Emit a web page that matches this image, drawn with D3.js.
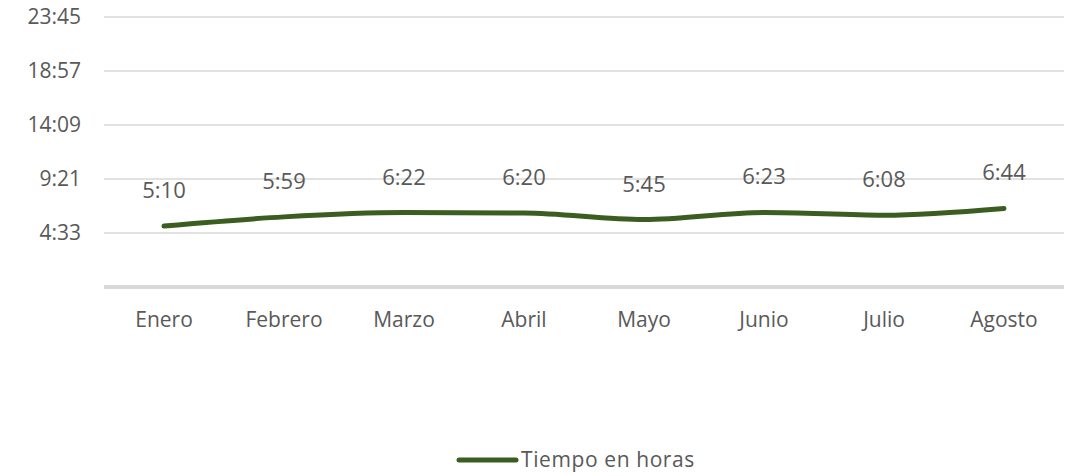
<!DOCTYPE html>
<html>
<head>
<meta charset="utf-8">
<script src="https://cdn.jsdelivr.net/npm/d3@7"></script>
<style>
  body { margin: 0; background: #fff; }
  text { font-family: "Open Sans", sans-serif; fill: #595959; }
</style>
</head>
<body>
<svg id="chart" width="1073" height="476"></svg>
<script>
'use strict'

// data: minutes per month
const months = ["Enero", "Febrero", "Marzo", "Abril", "Mayo", "Junio", "Julio", "Agosto"];
const tiempoLabels = ["5:10", "5:59", "6:22", "6:20", "5:45", "6:23", "6:08", "6:44"];
const tiempoMinutes = [310, 359, 382, 380, 345, 383, 368, 404];
const tickLabels = ["4:33", "9:21", "14:09", "18:57", "23:45"];
const tickValues = [273, 561, 849, 1137, 1425];
const seriesName = "Tiempo en horas";

const lineColor = "#3b5e20";
const fontFam = "'Open Sans', sans-serif";

let svg = d3.select("#chart");

let x = d3.scaleBand().domain(months).range([104, 1064]);
let y = d3.scaleLinear().domain([-15, 1425]).range([287, 17]);

// gridlines
svg.append("g")
  .selectAll("line")
  .data(tickValues)
  .enter().append("line")
    .attr("x1", 104).attr("x2", 1064)
    .attr("y1", d => y(d)).attr("y2", d => y(d))
    .attr("stroke", "#d9d9d9").attr("stroke-width", 1.5);

// base axis line
svg.append("line")
  .attr("x1", 104).attr("x2", 1064)
  .attr("y1", y(-15)).attr("y2", y(-15))
  .attr("stroke", "#d9d9d9").attr("stroke-width", 4);

// y tick labels
let yAxis = d3.axisLeft(y).tickValues(tickValues)
  .tickFormat((d, i) => tickLabels[i]).tickSize(0).tickPadding(0);
let yg = svg.append("g").attr("transform", "translate(81,0)").call(yAxis);
yg.select(".domain").remove();
yg.selectAll("text").attr("font-size", 21).attr("fill", "#595959")
  .attr("font-family", fontFam);

// x tick labels
let xAxis = d3.axisBottom(x).tickSize(0).tickPadding(0);
let xg = svg.append("g").attr("transform", "translate(0,312)").call(xAxis);
xg.select(".domain").remove();
xg.selectAll("text").attr("font-size", 21).attr("fill", "#595959")
  .attr("font-family", fontFam);

// the line
let line = d3.line()
  .x((d, i) => x(months[i]) + x.bandwidth() / 2)
  .y(d => y(d))
  .curve(d3.curveMonotoneX);

svg.append("path")
  .datum(tiempoMinutes)
  .attr("d", line)
  .attr("fill", "none")
  .attr("stroke", lineColor)
  .attr("stroke-width", 5)
  .attr("stroke-linecap", "round");

// data labels
svg.append("g")
  .selectAll("text")
  .data(tiempoMinutes)
  .enter().append("text")
    .attr("x", (d, i) => x(months[i]) + x.bandwidth() / 2)
    .attr("y", d => y(d) - 28)
    .attr("text-anchor", "middle")
    .attr("font-size", 22)
    .text((d, i) => tiempoLabels[i]);

// legend
let legend = svg.append("g");
legend.append("line")
  .attr("x1", 459).attr("x2", 516)
  .attr("y1", 460).attr("y2", 460)
  .attr("stroke", lineColor).attr("stroke-width", 5)
  .attr("stroke-linecap", "round");
legend.append("text")
  .attr("x", 521).attr("y", 467)
  .attr("font-size", 21)
  .attr("letter-spacing", 0.6)
  .text(seriesName);
</script>
</body>
</html>
